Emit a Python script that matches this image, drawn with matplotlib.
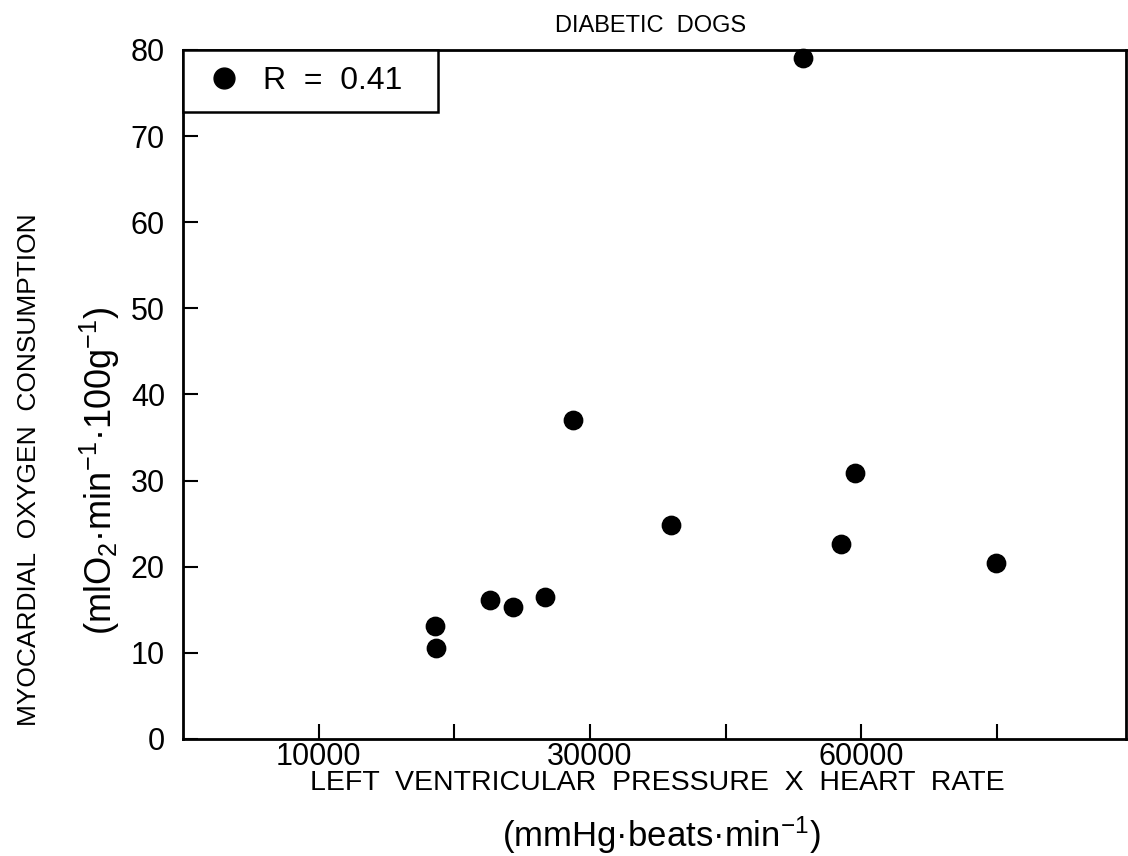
import matplotlib
matplotlib.use("Agg")
import matplotlib.pyplot as plt
from matplotlib.lines import Line2D

# rate-pressure product vs. myocardial O2 consumption, diabetic group
rpp = [18600, 18650, 22600, 24350, 26700, 28750, 36000, 45700, 48500, 49550, 59900]
mvo2 = [13.1, 10.6, 16.1, 15.3, 16.5, 37.0, 24.9, 79.1, 22.6, 30.9, 20.4]

x_ticks = [10000, 20000, 30000, 40000, 50000, 60000]
x_tick_labels = ["10000", "", "30000", "", "60000", ""]
y_ticks = [0, 10, 20, 30, 40, 50, 60, 70, 80]
r_value = 0.41

plt.rcParams["font.family"] = ["Liberation Sans", "DejaVu Sans"]
plt.rcParams["mathtext.default"] = "regular"

fig = plt.figure(figsize=(11.28, 8.56), dpi=100)
ax = fig.add_axes([0.1622, 0.1367, 0.836, 0.805])

ax.scatter(rpp, mvo2, s=175, color="black", zorder=3, clip_on=False)

ax.set_xlim(0, 69500)
ax.set_ylim(0, 80)
ax.set_xticks(x_ticks)
ax.set_xticklabels(x_tick_labels)
ax.set_yticks(y_ticks)
ax.tick_params(direction="in", width=1.5, labelsize=22, colors="black")
ax.tick_params(axis="x", length=11, pad=2)
ax.tick_params(axis="y", length=11, pad=13)
for sp in ax.spines.values():
    sp.set_linewidth(2)

# boxed legend in the top-left corner
handle = Line2D([], [], marker="o", linestyle="none", color="black", markersize=15)
leg = ax.legend([handle], [f"R  =  {r_value:.2f}"], loc="upper left",
                bbox_to_anchor=(0, 1, 0.27, 0), mode="expand", borderaxespad=0,
                fontsize=23, fancybox=False, framealpha=1, edgecolor="black",
                handletextpad=0.4, borderpad=0.5, handlelength=1.6)
leg.get_frame().set_linewidth(1.8)

fig.text(0.577, 0.97, "DIABETIC  DOGS", ha="center", va="center", fontsize=17)
fig.text(0.583, 0.0853, "LEFT  VENTRICULAR  PRESSURE  X  HEART  RATE",
         ha="center", va="center", fontsize=20.5)
fig.text(0.586, 0.024, "(mmHg·beats·min$^{-1}$)", ha="center", va="center", fontsize=25)
fig.text(0.026, 0.451, "MYOCARDIAL  OXYGEN  CONSUMPTION", rotation=90,
         ha="center", va="center", fontsize=19)
fig.text(0.0887, 0.45, "(mlO$_2$·min$^{-1}$·100g$^{-1}$)", rotation=90,
         ha="center", va="center", fontsize=26)

fig.savefig("out.png", dpi=100)
